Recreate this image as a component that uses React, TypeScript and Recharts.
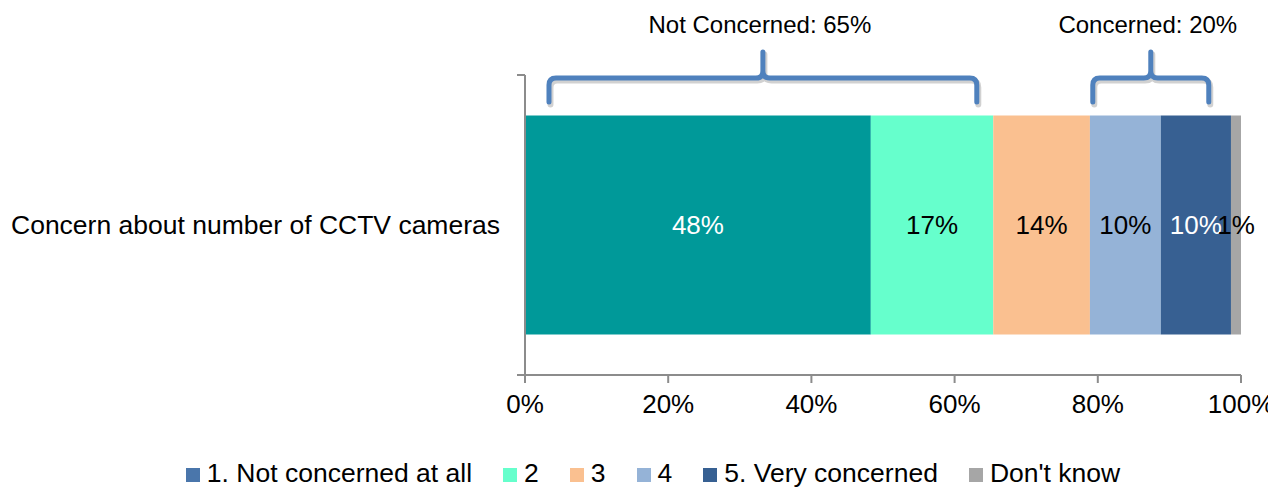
import React from 'react';
import { BarChart, Bar, XAxis, YAxis, Legend, LabelList, ReferenceArea } from 'recharts';

const categories = ['Concern about number of CCTV cameras'];
const seriesNames = ['1. Not concerned at all', '2', '3', '4', '5. Very concerned', "Don't know"];
const seriesValues = [48.3, 17.1, 13.5, 9.9, 9.8, 1.4];
const seriesColors = ['#009999', '#66FFCC', '#FAC090', '#95B3D7', '#376092', '#A6A6A6'];
const legendColors = ['#4A76AB', '#66FFCC', '#FAC090', '#95B3D7', '#376092', '#A6A6A6'];
const labelColors = ['#FFFFFF', '#000000', '#000000', '#000000', '#FFFFFF', '#000000'];
const xTicks = [0, 20, 40, 60, 80, 100];
const braceLabels = ['Not Concerned: 65%', 'Concerned: 20%'];
const braceStarts = [3.35, 79.3];
const braceEnds = [63.1, 95.5];

const keys = seriesNames.map((_, i) => `s${i}`);
const data = categories.map((name) => {
  const row: Record<string, any> = { name };
  keys.forEach((k, i) => {
    row[k] = seriesValues[i];
  });
  return row;
});

const AXIS = '#8C8C8C';
const FONT = '"Liberation Sans", Arial, sans-serif';

const BraceShape = (props: any) => {
  const { x, y, width, text } = props;
  if (x == null || y == null) return null;
  const xl = x;
  const xr = x + width;
  const xm = x + width / 2;
  const ye = y + 27;
  const y0 = y + 3;
  const yt = y - 23;
  const r = 7;
  const d = [
    `M${xl},${ye}`,
    `V${y0 + r}`,
    `Q${xl},${y0} ${xl + r},${y0}`,
    `H${xm - r}`,
    `Q${xm},${y0} ${xm},${y0 - r}`,
    `V${yt}`,
    `M${xm},${yt}`,
    `V${y0 - r}`,
    `Q${xm},${y0} ${xm + r},${y0}`,
    `H${xr - r}`,
    `Q${xr},${y0} ${xr},${y0 + r}`,
    `V${ye}`,
  ].join(' ');
  return (
    <g>
      <path d={d} fill="none" stroke="#000" strokeOpacity={0.18} strokeWidth={6} strokeLinecap="round" strokeLinejoin="round" transform="translate(1.5,2.5)" />
      <path d={d} fill="none" stroke="#4F81BD" strokeWidth={5} strokeLinecap="round" strokeLinejoin="round" />
      <text x={xm - 3} y={y - 42} textAnchor="middle" fontSize={24} fill="#000" fontFamily={FONT}>
        {text}
      </text>
    </g>
  );
};

const AxisTicksShape = (props: any) => {
  const { x, y, height } = props;
  if (x == null || y == null) return null;
  return (
    <g>
      <line x1={x - 8} y1={y} x2={x} y2={y} stroke={AXIS} strokeWidth={2} />
      <line x1={x - 8} y1={y + height} x2={x} y2={y + height} stroke={AXIS} strokeWidth={2} />
    </g>
  );
};

const renderLegend = () => (
  <div
    style={{
      display: 'flex',
      justifyContent: 'center',
      alignItems: 'center',
      height: 30,
      paddingLeft: 57,
      fontFamily: FONT,
      fontSize: 26.5,
      color: '#000',
      whiteSpace: 'nowrap',
    }}
  >
    {seriesNames.map((n, i) => (
      <div key={n} style={{ display: 'flex', alignItems: 'center', marginRight: i < seriesNames.length - 1 ? 31 : 0 }}>
        <span style={{ display: 'inline-block', width: 14, height: 14, background: legendColors[i], marginRight: 7, marginTop: 3 }} />
        <span>{n}</span>
      </div>
    ))}
  </div>
);

export default function App() {
  return (
    <div style={{ fontFamily: FONT }}>
      <BarChart
        width={1268}
        height={480}
        data={data}
        layout="vertical"
        margin={{ top: 67, right: 35, bottom: 0, left: 0 }}
        barCategoryGap="13.5%"
      >
        <XAxis
          type="number"
          domain={[0, 100]}
          ticks={xTicks}
          tickFormatter={(v: number) => `${v}%`}
          axisLine={{ stroke: AXIS, strokeWidth: 2 }}
          tickLine={{ stroke: AXIS, strokeWidth: 2 }}
          tickSize={8}
          tickMargin={12}
          tick={{ fontSize: 26, fill: '#000' }}
          height={83}
          interval={0}
        />
        <YAxis
          type="category"
          dataKey="name"
          width={517}
          axisLine={{ stroke: AXIS, strokeWidth: 2 }}
          tickLine={false}
          tickSize={0}
          tickMargin={25}
          tick={{ fontSize: 26.5, fill: '#000' }}
        />
        <Legend verticalAlign="bottom" height={30} content={renderLegend} />
        {keys.map((k, i) => (
          <Bar key={k} dataKey={k} name={seriesNames[i]} stackId="a" fill={seriesColors[i]} isAnimationActive={false}>
            <LabelList
              dataKey={k}
              position="center"
              fill={labelColors[i]}
              fontSize={26}
              formatter={(v: any) => `${Math.round(Number(v))}%`}
            />
          </Bar>
        ))}
        <ReferenceArea x1={0} x2={100} fill="none" stroke="none" ifOverflow="visible" shape={(p: any) => <AxisTicksShape {...p} />} />
        {braceLabels.map((t, i) => (
          <ReferenceArea
            key={t}
            x1={braceStarts[i]}
            x2={braceEnds[i]}
            ifOverflow="visible"
            shape={(p: any) => <BraceShape {...p} text={t} />}
          />
        ))}
      </BarChart>
    </div>
  );
}
